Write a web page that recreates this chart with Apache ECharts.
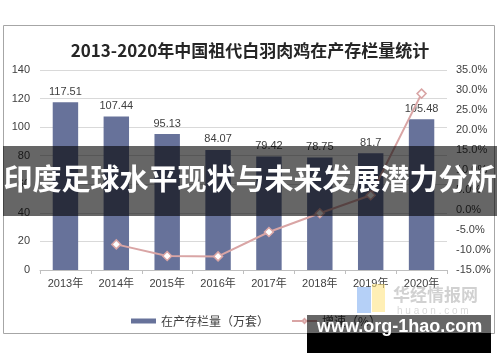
<!DOCTYPE html>
<html>
<head>
<meta charset="utf-8">
<script src="https://cdn.jsdelivr.net/npm/echarts@6/dist/echarts.min.js"></script>
<style>html,body{margin:0;padding:0;background:#fff}#c{width:500px;height:362px}</style>
</head>
<body>
<div id="c"></div>
<script>
const categories = ['2013年','2014年','2015年','2016年','2017年','2018年','2019年','2020年'];
const stockValues = [117.51, 107.44, 95.13, 84.07, 79.42, 78.75, 81.7, 105.48];
const growthValues = [null, -8.6, -11.5, -11.6, -5.5, -0.8, 3.7, 29.1];
const titleText = '2013-2020年中国祖代白羽肉鸡在产存栏量统计';
const bannerText = '印度足球水平现状与未来发展潜力分析';
const urlText = 'www.org-1hao.com';
const seriesNames = ['在产存栏量（万套）', '增速（%）'];

const FONT = '"Liberation Sans", "Noto Sans CJK SC", sans-serif';
const chart = echarts.init(document.getElementById('c'), null, {renderer: 'canvas'});
chart.setOption({
  backgroundColor: '#fff',
  animation: false,
  title: {
    text: titleText, left: 'center', top: 37,
    textStyle: {fontFamily: '"Noto Sans CJK SC", sans-serif', fontSize: 17, fontWeight: 'bold', color: '#262626'}
  },
  legend: {
    left: 126, top: 310, itemGap: 22,
    textStyle: {fontFamily: '"Noto Sans CJK SC", sans-serif', fontSize: 12, color: '#404040'},
    data: [
      {name: seriesNames[0], icon: 'rect', itemStyle: {color: '#67729a'}},
      {name: seriesNames[1]}
    ],
    itemWidth: 25, itemHeight: 5
  },
  grid: {left: 40, right: 53, top: 70, bottom: 92},
  xAxis: {
    type: 'category', data: categories,
    axisLine: {lineStyle: {color: '#bfbfbf'}},
    axisTick: {show: true, alignWithLabel: false, length: 4, lineStyle: {color: '#bfbfbf'}},
    axisLabel: {fontFamily: FONT, fontSize: 11, color: '#404040', margin: 8}
  },
  yAxis: [
    {
      type: 'value', min: 0, max: 140, interval: 20,
      axisLine: {show: false}, axisTick: {show: false},
      splitLine: {lineStyle: {color: '#d9d9d9'}},
      axisLabel: {fontFamily: FONT, fontSize: 11, color: '#404040', margin: 10}
    },
    {
      type: 'value', min: -15, max: 35, interval: 5,
      axisLine: {show: false}, axisTick: {show: false},
      splitLine: {show: false},
      axisLabel: {fontFamily: FONT, fontSize: 11, color: '#404040', margin: 9,
        formatter: v => v.toFixed(1) + '%'}
    }
  ],
  series: [
    {
      name: seriesNames[0], type: 'bar', data: stockValues, barWidth: '50%',
      itemStyle: {color: '#67729a'},
      label: {show: true, position: 'top', distance: 5, fontFamily: FONT, fontSize: 11, color: '#404040'}
    },
    {
      name: seriesNames[1], type: 'line', yAxisIndex: 1, data: growthValues,
      symbol: 'diamond', symbolSize: 9, showAllSymbol: true,
      lineStyle: {color: '#d9a5a5', width: 2},
      itemStyle: {color: '#fff', borderColor: '#d9a5a5', borderWidth: 1.5}
    }
  ],
  graphic: [
    {type: 'rect', shape: {x: 3.5, y: 25.5, width: 491, height: 308}, style: {fill: 'none', stroke: '#a6a6a6', lineWidth: 1}, z: 10},
    {type: 'rect', shape: {x: 357, y: 287, width: 14, height: 26}, style: {fill: 'rgba(120,170,240,0.55)'}, z: 20},
    {type: 'rect', shape: {x: 372, y: 284, width: 13, height: 28}, style: {fill: 'rgba(255,225,120,0.55)'}, z: 20},
    {type: 'text', left: 393, top: 286, style: {text: '华经情报网', fontFamily: '"Noto Sans CJK SC", sans-serif', fontSize: 17, fontWeight: 'bold', fill: 'rgba(190,190,190,0.7)'}, z: 20},
    {type: 'text', left: 397, top: 306, style: {text: 'h u a o n . c o m', fontFamily: FONT, fontSize: 10, fill: 'rgba(200,200,200,0.7)'}, z: 20},
    {type: 'rect', shape: {x: 3, y: 146, width: 494, height: 70}, style: {fill: 'rgba(0,0,0,0.6)'}, z: 30},
    {type: 'text', left: 'center', top: 164, style: {text: bannerText, fontFamily: '"Noto Sans CJK SC", sans-serif', fontSize: 29, fontWeight: 'bold', fill: '#fff'}, z: 31},
    {type: 'rect', shape: {x: 307, y: 315, width: 184, height: 18}, style: {fill: 'rgba(0,0,0,0.6)'}, z: 30},
    {type: 'rect', shape: {x: 307, y: 333, width: 184, height: 20}, style: {fill: '#000'}, z: 30},
    {type: 'text', left: 317, top: 318, style: {text: urlText, fontFamily: '"Liberation Sans", sans-serif', fontSize: 18, fontWeight: 'bold', fill: '#fff'}, z: 31}
  ]
});
</script>
</body>
</html>
